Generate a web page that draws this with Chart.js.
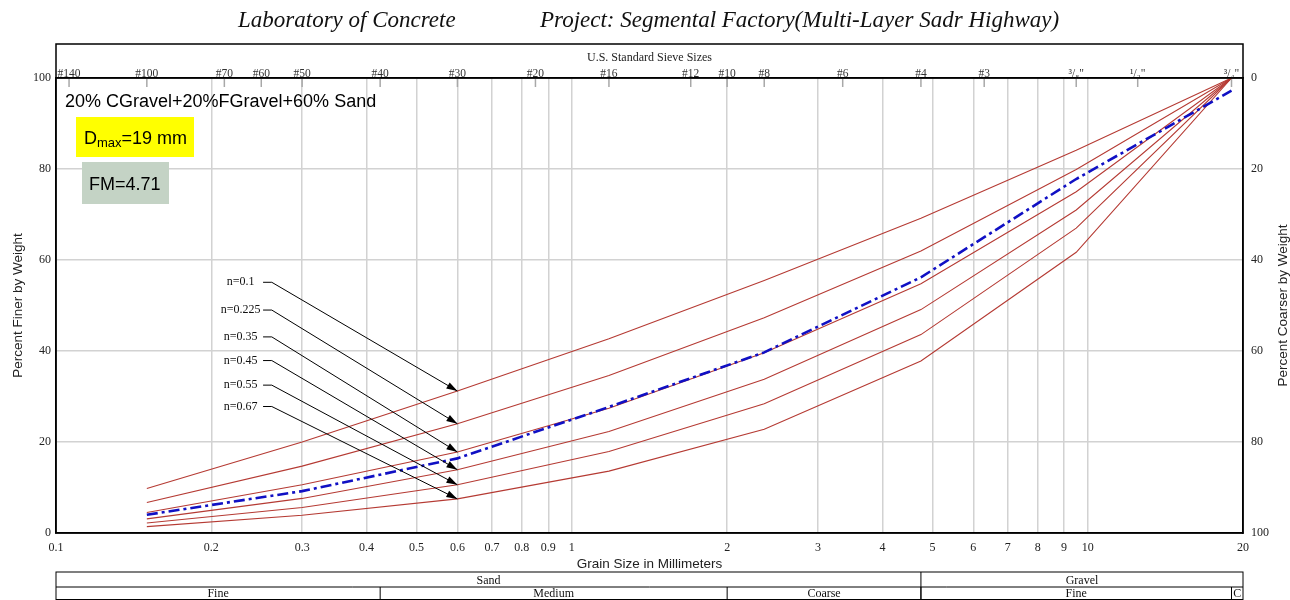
<!DOCTYPE html>
<html>
<head>
<meta charset="utf-8">
<script src="https://cdn.jsdelivr.net/npm/chart.js@4.4.1/dist/chart.umd.min.js"></script>
<style>
  html, body { margin: 0; padding: 0; background: #fff; }
</style>
</head>
<body>
<canvas id="grading" width="1290" height="600"></canvas>
<script>
// sieve openings (mm) used for the curves
const sieveSizes = [0.15, 0.3, 0.6, 1.18, 2.36, 4.75, 9.5, 19];

// reference gradation curves, percent passing at each sieve
const nValues = [0.1, 0.225, 0.35, 0.45, 0.55, 0.67];
const passingN010 = [9.8, 20.0, 31.2, 42.7, 55.5, 69.2, 84.1, 100];
const passingN0225 = [6.7, 14.7, 24.0, 34.6, 47.3, 62.0, 79.9, 100];
const passingN035 = [4.5, 10.6, 17.8, 27.4, 39.6, 54.8, 75.0, 100];
const passingN045 = [3.1, 7.6, 13.9, 22.3, 33.8, 49.1, 71.0, 100];
const passingN055 = [2.2, 5.6, 10.6, 17.9, 28.4, 43.6, 67.0, 100];
const passingN067 = [1.4, 3.9, 7.5, 13.6, 22.8, 37.8, 61.7, 100];

// the blend itself
const blendPassing = [4.0, 9.2, 16.4, 27.7, 39.7, 56.2, 77.8, 97.2];

// top axis: U.S. standard sieves
const sieveNames = ['#140', '#100', '#70', '#60', '#50', '#40', '#30', '#20', '#16', '#12', '#10', '#8', '#6', '#4', '#3', '³/₈"', '¹/₂"', '³/₄"'];
const sieveOpenings = [0.106, 0.15, 0.212, 0.25, 0.3, 0.425, 0.6, 0.85, 1.18, 1.7, 2.0, 2.36, 3.35, 4.75, 6.3, 9.5, 12.5, 19];

// bottom and side axes
const mmTicks = [0.1, 0.2, 0.3, 0.4, 0.5, 0.6, 0.7, 0.8, 0.9, 1, 2, 3, 4, 5, 6, 7, 8, 9, 10, 20];
const percentTicks = [0, 20, 40, 60, 80, 100];

// soil classification strip
const soilGroups = ['Sand', 'Gravel'];
const soilGroupBounds = [0.1, 4.75, 20];
const soilClasses = ['Fine', 'Medium', 'Coarse', 'Fine', 'C'];
const soilClassBounds = [0.1, 0.425, 2, 4.75, 19, 20];

const curves = [passingN010, passingN0225, passingN035, passingN045, passingN055, passingN067];

const serif = '"Liberation Serif", "Times New Roman", serif';
const sans = '"Liberation Sans", Arial, sans-serif';
const gridColor = '#d2d2d2';
const curveRed = '#b53a33';

// where the n= labels sit (data units) and where their leader bends
const labelLayout = { textX: 0.228, bendFrom: 0.252, bendTo: 0.262, y: [55.1, 49.0, 43.1, 37.9, 32.5, 27.8] };

const datasets = [{
    label: 'Blend',
    data: sieveSizes.map((d, i) => ({ x: d, y: blendPassing[i] })),
    borderColor: '#1010c4',
    borderWidth: 2.6,
    borderDash: [11, 4, 3, 4],
    pointRadius: 0,
    tension: 0
}].concat(curves.map((c, k) => ({
    label: 'n=' + nValues[k],
    data: sieveSizes.map((d, i) => ({ x: d, y: c[i] })),
    borderColor: curveRed,
    borderWidth: 1.1,
    pointRadius: 0,
    tension: 0
})));

function arrow(ctx, x0, y0, x1, y1) {
    const ang = Math.atan2(y1 - y0, x1 - x0);
    const len = 11, half = 3.5;
    const bx = x1 - len * Math.cos(ang), by = y1 - len * Math.sin(ang);
    ctx.beginPath();
    ctx.moveTo(x1, y1);
    ctx.lineTo(bx + half * Math.sin(ang), by - half * Math.cos(ang));
    ctx.lineTo(bx - half * Math.sin(ang), by + half * Math.cos(ang));
    ctx.closePath();
    ctx.fill();
}

const decor = {
    id: 'decor',
    afterDraw(chart) {
        const { ctx, chartArea: a, scales } = chart;
        const xs = scales.x, ys = scales.y;
        ctx.save();

        // page heading
        ctx.fillStyle = '#111';
        ctx.textBaseline = 'middle';
        ctx.textAlign = 'left';
        ctx.font = 'italic 23px ' + serif;
        ctx.fillText('Laboratory of Concrete', 238, 21);
        ctx.fillText('Project: Segmental Factory(Multi-Layer Sadr Highway)', 540, 21);

        // frames
        ctx.strokeStyle = '#000';
        ctx.lineWidth = 1.5;
        ctx.beginPath();
        ctx.moveTo(a.left, a.top);
        ctx.lineTo(a.left, 44);
        ctx.lineTo(a.right, 44);
        ctx.lineTo(a.right, a.top);
        ctx.stroke();
        ctx.strokeRect(a.left, a.top, a.right - a.left, a.bottom - a.top);

        // sieve tick marks hanging under the top axis
        ctx.strokeStyle = '#a8a8a8';
        ctx.lineWidth = 1.5;
        sieveOpenings.forEach(s => {
            const px = xs.getPixelForValue(s);
            ctx.beginPath();
            ctx.moveTo(px, a.top + 1);
            ctx.lineTo(px, a.top + 9);
            ctx.stroke();
        });

        // mix description
        ctx.fillStyle = '#000';
        ctx.font = '18px ' + sans;
        ctx.textBaseline = 'alphabetic';
        ctx.fillText('20% CGravel+20%FGravel+60% Sand', 65, 107);

        ctx.fillStyle = '#ffff00';
        ctx.fillRect(76, 117, 118, 40);
        ctx.fillStyle = '#000';
        ctx.font = '18px ' + sans;
        ctx.fillText('D', 84, 144);
        let w = ctx.measureText('D').width;
        ctx.font = '13px ' + sans;
        ctx.fillText('max', 84 + w, 147);
        w += ctx.measureText('max').width;
        ctx.font = '18px ' + sans;
        ctx.fillText('=19 mm', 84 + w, 144);

        ctx.fillStyle = '#c4d3c5';
        ctx.fillRect(82, 162, 87, 42);
        ctx.fillStyle = '#000';
        ctx.fillText('FM=4.71', 89, 190);

        // n= labels with leaders to the curves at 0.6 mm
        ctx.font = '12px ' + serif;
        ctx.textAlign = 'center';
        ctx.textBaseline = 'middle';
        ctx.strokeStyle = '#000';
        ctx.lineWidth = 1;
        const tipX = xs.getPixelForValue(sieveSizes[2]);
        nValues.forEach((n, k) => {
            const ly = ys.getPixelForValue(labelLayout.y[k]);
            ctx.fillStyle = '#111';
            ctx.fillText('n=' + n, xs.getPixelForValue(labelLayout.textX), ly);
            const b0 = xs.getPixelForValue(labelLayout.bendFrom);
            const b1 = xs.getPixelForValue(labelLayout.bendTo);
            const ty = ys.getPixelForValue(curves[k][2]);
            ctx.beginPath();
            ctx.moveTo(b0, ly);
            ctx.lineTo(b1, ly);
            ctx.lineTo(tipX, ty);
            ctx.stroke();
            ctx.fillStyle = '#000';
            arrow(ctx, b1, ly, tipX, ty);
        });

        // right axis title, reading upward
        ctx.save();
        ctx.translate(1283, (a.top + a.bottom) / 2);
        ctx.rotate(-Math.PI / 2);
        ctx.font = '13.5px ' + sans;
        ctx.fillStyle = '#222';
        ctx.textAlign = 'center';
        ctx.fillText('Percent Coarser by Weight', 0, 0);
        ctx.restore();

        // classification strip
        const t0 = 572, t1 = 587, t2 = 599.5;
        ctx.strokeStyle = '#000';
        ctx.lineWidth = 1;
        ctx.strokeRect(a.left, t0, a.right - a.left, t2 - t0);
        ctx.beginPath();
        ctx.moveTo(a.left, t1);
        ctx.lineTo(a.right, t1);
        ctx.stroke();
        ctx.font = '12px ' + serif;
        ctx.fillStyle = '#111';
        ctx.textAlign = 'center';
        soilGroups.forEach((g, i) => {
            const l = xs.getPixelForValue(soilGroupBounds[i]);
            const r = xs.getPixelForValue(soilGroupBounds[i + 1]);
            if (i > 0) {
                ctx.beginPath();
                ctx.moveTo(l, t0);
                ctx.lineTo(l, t2);
                ctx.stroke();
            }
            ctx.fillText(g, (l + r) / 2, (t0 + t1) / 2 + 1);
        });
        soilClasses.forEach((c, i) => {
            const l = xs.getPixelForValue(soilClassBounds[i]);
            const r = xs.getPixelForValue(soilClassBounds[i + 1]);
            if (i > 0) {
                ctx.beginPath();
                ctx.moveTo(l, t1);
                ctx.lineTo(l, t2);
                ctx.stroke();
            }
            ctx.fillText(c, (l + r) / 2, (t1 + t2) / 2 + 1);
        });

        ctx.restore();
    }
};

new Chart(document.getElementById('grading'), {
    type: 'line',
    data: { datasets: datasets },
    options: {
        responsive: false,
        animation: false,
        parsing: true,
        layout: { padding: { left: 10, right: 0, top: 51, bottom: 28 } },
        plugins: { legend: { display: false }, tooltip: { enabled: false } },
        scales: {
            x: {
                type: 'logarithmic',
                position: 'bottom',
                min: 0.1,
                max: 20,
                afterBuildTicks: s => { s.ticks = mmTicks.map(v => ({ value: v })); },
                afterFit: s => { s.height = 39; },
                ticks: {
                    autoSkip: false,
                    maxRotation: 0,
                    padding: 8,
                    color: '#222',
                    font: { family: serif, size: 12 },
                    callback: v => String(v)
                },
                grid: { color: gridColor, lineWidth: 1.5, drawTicks: false },
                border: { display: true, color: '#000', width: 1.5 },
                title: { display: true, text: 'Grain Size in Millimeters', color: '#222', font: { family: sans, size: 13.5 }, padding: 0 }
            },
            x2: {
                type: 'logarithmic',
                position: 'top',
                min: 0.1,
                max: 20,
                afterBuildTicks: s => { s.ticks = sieveOpenings.map(v => ({ value: v })); },
                afterFit: s => { s.height = 27; },
                ticks: {
                    autoSkip: false,
                    maxRotation: 0,
                    padding: -3,
                    color: '#333',
                    font: { family: serif, size: 11.5 },
                    callback: (v, i) => sieveNames[i]
                },
                grid: { drawOnChartArea: false, drawTicks: false },
                border: { display: true, color: '#000', width: 1.5 },
                title: { display: true, text: 'U.S. Standard Sieve Sizes', color: '#222', font: { family: serif, size: 12 }, padding: 0 }
            },
            y: {
                position: 'left',
                min: 0,
                max: 100,
                afterBuildTicks: s => { s.ticks = percentTicks.map(v => ({ value: v })); },
                afterFit: s => { s.width = 46; },
                ticks: { padding: 5, color: '#222', font: { family: serif, size: 12 } },
                grid: { color: gridColor, lineWidth: 1.5, drawTicks: false },
                border: { display: true, color: '#000', width: 1.5 },
                title: { display: true, text: 'Percent Finer by Weight', color: '#222', font: { family: sans, size: 13.5 }, padding: 0 }
            },
            y2: {
                position: 'right',
                reverse: true,
                min: 0,
                max: 100,
                afterBuildTicks: s => { s.ticks = percentTicks.map(v => ({ value: v })); },
                afterFit: s => { s.width = 47; },
                ticks: { padding: 8, color: '#222', font: { family: serif, size: 12 } },
                grid: { drawOnChartArea: false, drawTicks: false },
                border: { display: true, color: '#000', width: 1.5 }
            }
        }
    },
    plugins: [decor]
});
</script>
</body>
</html>
